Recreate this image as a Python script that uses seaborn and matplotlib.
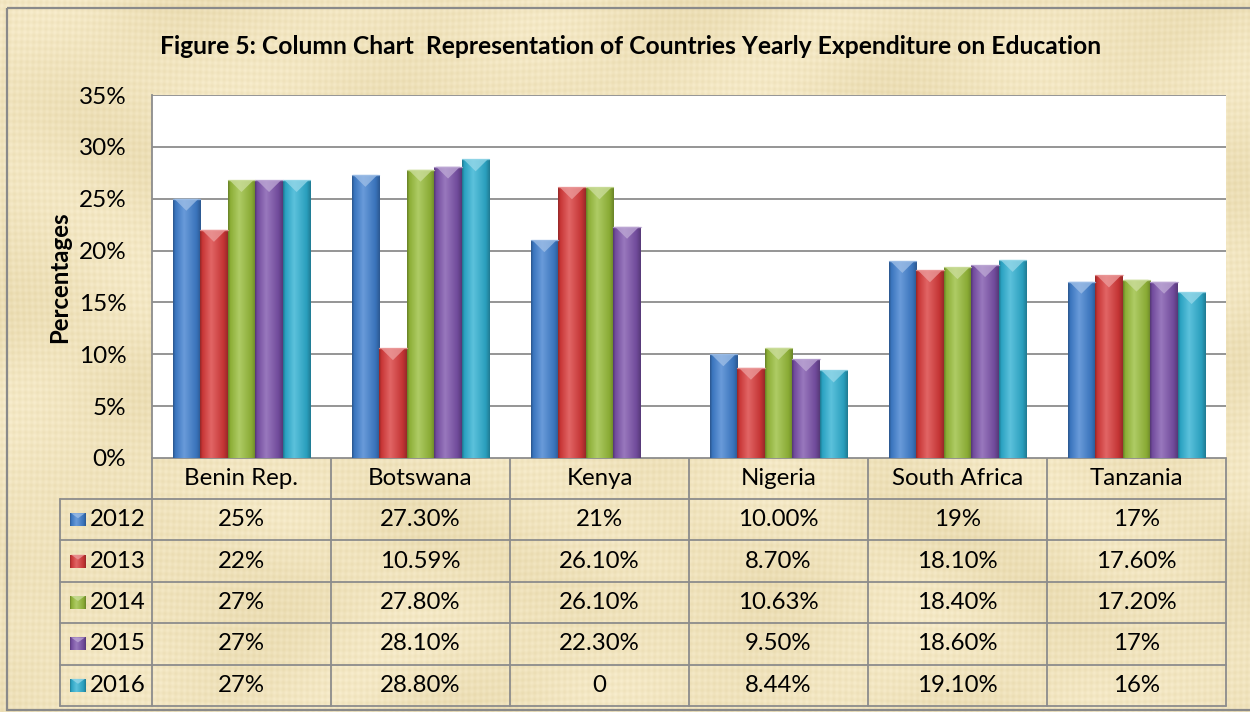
import numpy as np
import pandas as pd
import matplotlib
matplotlib.use("Agg")
import matplotlib.pyplot as plt
import matplotlib.colors as mcolors
from matplotlib.patches import Polygon, Rectangle
import seaborn as sns

# ---------------- data ----------------
countries = ["Benin Rep.", "Botswana", "Kenya", "Nigeria", "South Africa", "Tanzania"]
years = ["2012", "2013", "2014", "2015", "2016"]
v2012 = [25.0, 27.3, 21.0, 10.00, 19.0, 17.0]
v2013 = [22.0, 10.59, 26.1, 8.70, 18.1, 17.6]
v2014 = [26.8, 27.8, 26.1, 10.63, 18.4, 17.2]
v2015 = [26.8, 28.1, 22.3, 9.50, 18.6, 17.0]
v2016 = [26.8, 28.8, 0.0, 8.44, 19.1, 16.0]
lab2012 = ["25%", "27.30%", "21%", "10.00%", "19%", "17%"]
lab2013 = ["22%", "10.59%", "26.10%", "8.70%", "18.10%", "17.60%"]
lab2014 = ["27%", "27.80%", "26.10%", "10.63%", "18.40%", "17.20%"]
lab2015 = ["27%", "28.10%", "22.30%", "9.50%", "18.60%", "17%"]
lab2016 = ["27%", "28.80%", "0", "8.44%", "19.10%", "16%"]
yticks = [0, 5, 10, 15, 20, 25, 30, 35]
title = "Figure 5: Column Chart  Representation of Countries Yearly Expenditure on Education"
ylabel = "Percentages"

values = [v2012, v2013, v2014, v2015, v2016]
labels = [lab2012, lab2013, lab2014, lab2015, lab2016]
colors = ["#3f7fcf", "#d93a3a", "#98bd3a", "#7c52ab", "#2eb0d2"]

df = pd.DataFrame({
    "country": [c for _ in years for c in countries],
    "year": [y for y in years for _ in countries],
    "value": [v for vals in values for v in vals],
})

# ---------------- style ----------------
sns.set_style("white")
plt.rcParams["font.family"] = ["Lato", "DejaVu Sans"]

W, H = 1250, 712
fig = plt.figure(figsize=(W / 100, H / 100), dpi=100)

# background axes in pixel coordinates
bg = fig.add_axes([0, 0, 1, 1], zorder=0)
bg.set_xlim(0, W)
bg.set_ylim(H, 0)
bg.axis("off")

# parchment-like texture (deterministic)
X, Y = np.meshgrid(np.arange(W), np.arange(H))
tex = (0.010 * np.sin(X / 41.0 + 2.0 * np.sin(Y / 57.0))
       + 0.010 * np.sin(Y / 33.0 + 1.5 * np.cos(X / 73.0))
       + 0.010 * np.sin(X * 1.05 + 3 * np.sin(Y / 90.0))
       + 0.010 * np.sin(Y * 0.95 + 3 * np.cos(X / 110.0)))
base = np.array([240, 227, 189]) / 255.0
img = np.clip(base[None, None, :] + tex[..., None] * np.array([0.8, 1.0, 1.6])[None, None, :], 0, 1)
bg.imshow(img, extent=[0, W, H, 0], aspect="auto", zorder=0, interpolation="bilinear")
bg.add_patch(Rectangle((7, 8), W, 702, fill=False, edgecolor="#8a8a8a", lw=1.6, zorder=1))
bg.set_xlim(0, W)
bg.set_ylim(H, 0)


def grad_colors(c, n=64):
    r = np.array(mcolors.to_rgb(c))
    white = np.ones(3)
    xs = np.linspace(0, 1, n)
    kx = [0.0, 0.08, 0.4, 0.85, 1.0]
    stops = [r * 0.68, r * 0.92, r + (white - r) * 0.22, r * 0.9, r * 0.7]
    out = np.zeros((1, n, 3))
    for ch in range(3):
        out[0, :, ch] = np.interp(xs, kx, [s[ch] for s in stops])
    return np.clip(out, 0, 1)


# ---------------- main chart ----------------
L, R, T, B = 152, 1226, 95, 458
ax = fig.add_axes([L / W, 1 - B / H, (R - L) / W, (B - T) / H], zorder=2)
ax.set_facecolor("white")
sns.barplot(data=df, x="country", y="value", hue="year", palette=colors,
            width=0.77, saturation=1, errorbar=None, legend=False,
            linewidth=0, ax=ax, zorder=3)

ax.set_xlim(-0.5, len(countries) - 0.5)
ax.set_ylim(0, 35)
units_per_px = 35 / (B - T)
for j, cont in enumerate(ax.containers):
    for p in cont.patches:
        h = p.get_height()
        if h <= 0:
            continue
        x0 = p.get_x()
        w = p.get_width()
        im = ax.imshow(grad_colors(colors[j]), extent=[x0, x0 + w, 0, h],
                       aspect="auto", zorder=3.5, interpolation="bilinear")
        im.set_clip_path(p)
        cap_h = 12 * units_per_px
        rc = np.array(mcolors.to_rgb(colors[j]))
        light = rc + (1 - rc) * 0.5
        ax.add_patch(Polygon([[x0 + 0.06 * w, h], [x0 + 0.94 * w, h], [x0 + w / 2, h - cap_h]],
                             closed=True, facecolor=light, edgecolor="none", alpha=0.75, zorder=3.7))
        ax.plot([x0, x0 + w], [h, h], color=light, lw=1.0, alpha=0.8, zorder=3.8)

ax.set_xlim(-0.5, len(countries) - 0.5)
ax.set_ylim(0, 35)
ax.set_yticks(yticks)
ax.set_yticklabels([f"{t}%" for t in yticks])
ax.set_xticks([])
ax.set_xlabel("")
ax.set_ylabel("")
ax.tick_params(axis="y", length=0, pad=18.5, labelsize=17.5, labelcolor="black")
ax.yaxis.grid(True, color="#8c8c8c", lw=1.3, zorder=1)
ax.set_axisbelow(True)
for s in ["top", "right", "bottom"]:
    ax.spines[s].set_visible(False)
ax.spines["left"].set_color("#8c8c8c")
ax.spines["left"].set_linewidth(1.3)

# title & y label
bg.text(631, 46, title, ha="center", va="center", fontsize=17.7, fontweight="bold", color="black", zorder=5)
bg.text(60, 277, ylabel, ha="center", va="center", rotation=90, fontsize=17.3, fontweight="bold",
        color="black", zorder=5)

# ---------------- data table ----------------
col_w = (R - L) / len(countries)
row_h = 41.4
head_top = B
rows_top = B + 41
leg_left = 60
line_kw = dict(color="#8c8c8c", lw=1.3, zorder=4)

bg.plot([L, R], [head_top, head_top], **line_kw)
for k in range(len(years) + 1):
    yk = rows_top + k * row_h
    bg.plot([leg_left, R], [yk, yk], **line_kw)
table_bottom = rows_top + len(years) * row_h
for i in range(len(countries) + 1):
    xi = L + i * col_w
    bg.plot([xi, xi], [head_top, table_bottom], **line_kw)
bg.plot([leg_left, leg_left], [rows_top, table_bottom], **line_kw)

for i, c in enumerate(countries):
    bg.text(L + (i + 0.5) * col_w, head_top + 20.5, c, ha="center", va="center",
            fontsize=17.3, color="black", zorder=5)

for k, yr in enumerate(years):
    yc = rows_top + (k + 0.5) * row_h
    # legend swatch
    bg.imshow(grad_colors(colors[k]), extent=[70, 86, yc + 6.5, yc - 6.5], aspect="auto",
              zorder=5, interpolation="bilinear")
    rc = np.array(mcolors.to_rgb(colors[k]))
    bg.add_patch(Polygon([[71, yc - 6.5], [85, yc - 6.5], [78, yc - 1.5]], closed=True,
                         facecolor=rc + (1 - rc) * 0.5, edgecolor="none", alpha=0.75, zorder=5.5))
    bg.text(90, yc, yr, ha="left", va="center", fontsize=17.3, color="black", zorder=5)
    for i in range(len(countries)):
        bg.text(L + (i + 0.5) * col_w, yc, labels[k][i], ha="center", va="center",
                fontsize=17.3, color="black", zorder=5)

bg.set_xlim(0, W)
bg.set_ylim(H, 0)

fig.savefig("out.png", dpi=100)
